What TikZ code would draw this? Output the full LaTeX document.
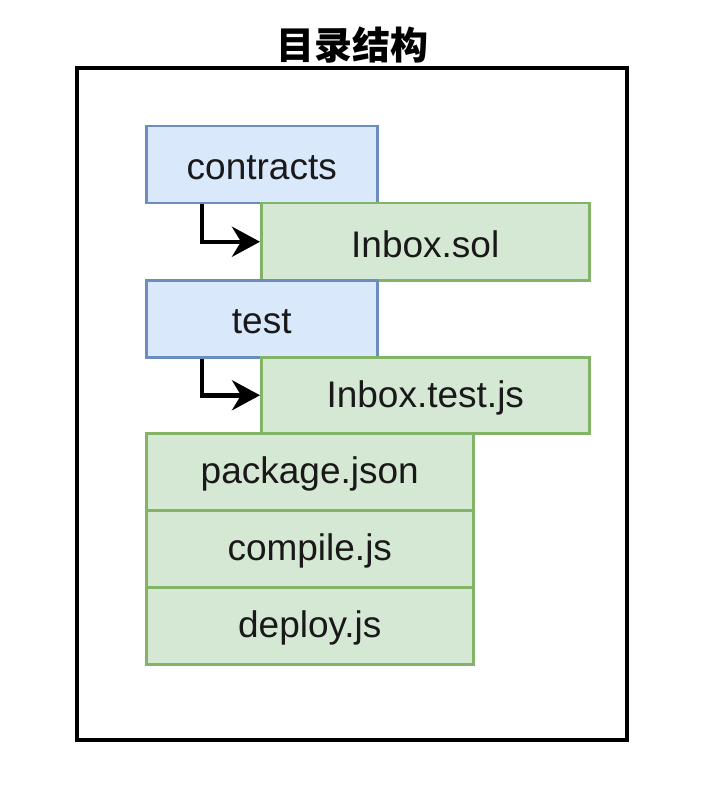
\documentclass[tikz,border=0pt]{standalone}
\usepackage{fontspec}
\setmainfont{Liberation Sans}
\newfontfamily\cjk{Noto Sans CJK SC}
\usetikzlibrary{arrows.meta}
\definecolor{bluefill}{HTML}{DAE8FC}
\definecolor{blueline}{HTML}{6C8EBF}
\definecolor{greenfill}{HTML}{D5E8D4}
\definecolor{greenline}{HTML}{82B366}
\newcommand\boxlbl[1]{\raisebox{-2.5pt}[\height][\depth]{#1}}
\tikzset{
  box/.style={rectangle, anchor=north west, inner sep=0pt, line width=2.5pt,
    font=\fontsize{37}{44}\selectfont, text=black!90},
  dirbox/.style={box, fill=bluefill, draw=blueline},
  filebox/.style={box, fill=greenfill, draw=greenline},
  arr/.style={line width=4.5pt, -{Stealth[length=28pt,width=30pt,inset=9pt]}},
}
\begin{document}
\begin{tikzpicture}[x=1pt,y=-1pt]
\useasboundingbox (0,0) rectangle (716,786);
\node[font=\cjk\bfseries\fontsize{38}{44}\selectfont] (title) at (352,45) {目录结构};
\draw[line width=3.5pt, black] (77,68) rectangle (627,740);
\node[dirbox, minimum width=231pt, minimum height=77pt] (contracts) at (145,125) {\boxlbl{contracts}};
\node[filebox, minimum width=328pt, minimum height=77pt] (inboxsol) at (260,202) {\boxlbl{Inbox.sol}};
\node[dirbox, minimum width=231pt, minimum height=77pt] (test) at (145,279) {\boxlbl{test}};
\node[filebox, minimum width=328pt, minimum height=76pt] (inboxtest) at (260,356) {\boxlbl{Inbox.test.js}};
\node[filebox, minimum width=327pt, minimum height=77pt] (package) at (145,432) {\boxlbl{package.json}};
\node[filebox, minimum width=327pt, minimum height=77pt] (compile) at (145,509) {\boxlbl{compile.js}};
\node[filebox, minimum width=327pt, minimum height=77pt] (deploy) at (145,586) {\boxlbl{deploy.js}};
\draw[arr] ([xshift=57pt]contracts.south west) |- (inboxsol.west);
\draw[arr] ([xshift=57pt]test.south west) |- (inboxtest.west);
\end{tikzpicture}
\end{document}
